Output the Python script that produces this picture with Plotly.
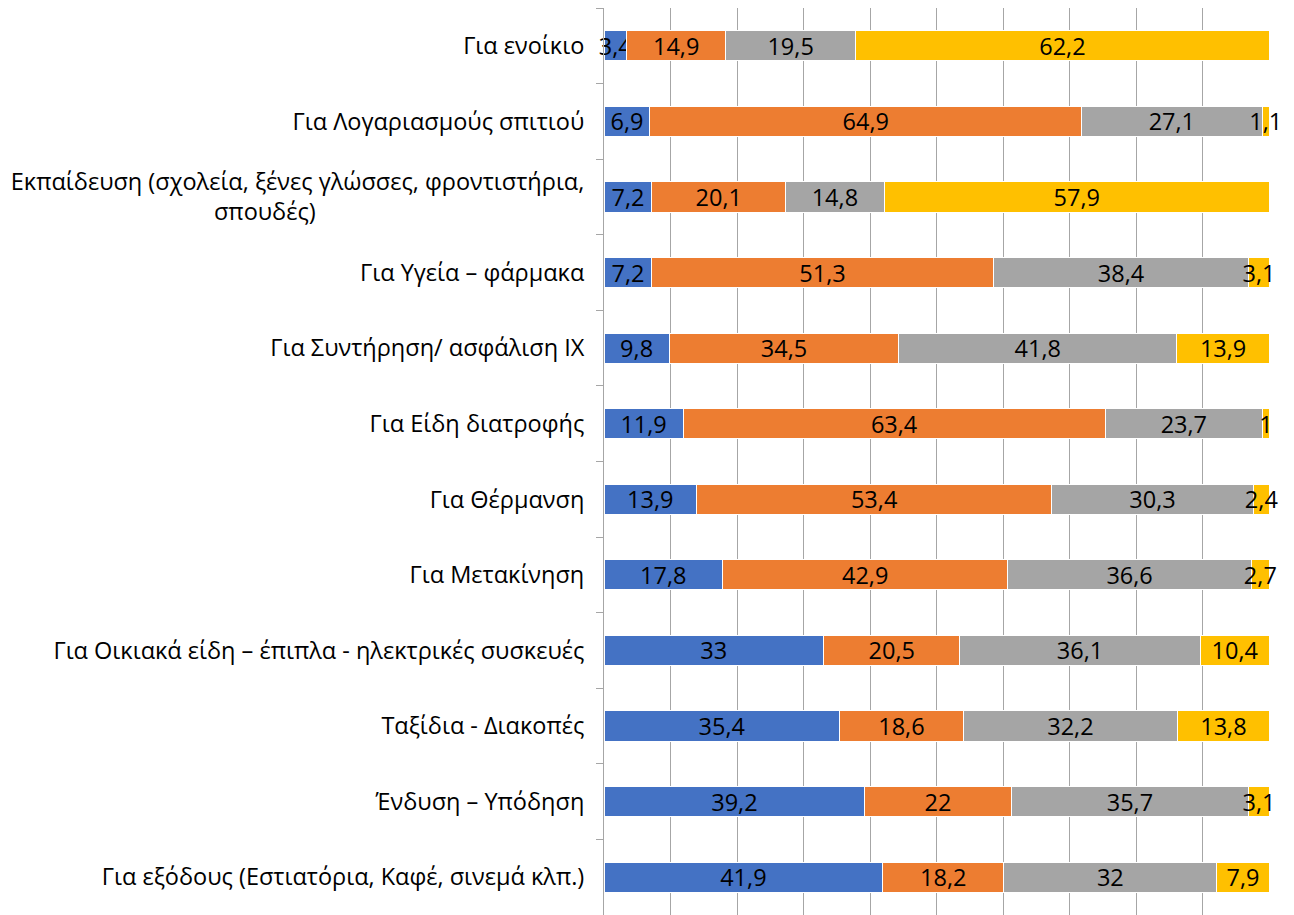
import plotly.graph_objects as go

NB = "\u00a0"

categories = [
    "Για ενοίκιο",
    "Για Λογαριασμούς σπιτιού",
    "Εκπαίδευση (σχολεία, ξένες γλώσσες, φροντιστήρια,<br>σπουδές)" + NB * 44,
    "Για Υγεία – φάρμακα",
    "Για Συντήρηση/ ασφάλιση ΙΧ",
    "Για Είδη διατροφής",
    "Για Θέρμανση",
    "Για Μετακίνηση",
    "Για Οικιακά είδη – έπιπλα - ηλεκτρικές συσκευές",
    "Ταξίδια - Διακοπές",
    "Ένδυση – Υπόδηση",
    "Για εξόδους (Εστιατόρια, Καφέ, σινεμά κλπ.)",
]

series1 = [3.4, 6.9, 7.2, 7.2, 9.8, 11.9, 13.9, 17.8, 33, 35.4, 39.2, 41.9]
series2 = [14.9, 64.9, 20.1, 51.3, 34.5, 63.4, 53.4, 42.9, 20.5, 18.6, 22, 18.2]
series3 = [19.5, 27.1, 14.8, 38.4, 41.8, 23.7, 30.3, 36.6, 36.1, 32.2, 35.7, 32]
series4 = [62.2, 1.1, 57.9, 3.1, 13.9, 1, 2.4, 2.7, 10.4, 13.8, 3.1, 7.9]

colors = ["#4472C4", "#ED7D31", "#A5A5A5", "#FFC000"]

FONT = "Open Sans, Noto Sans, sans-serif"
FS = 23.5


def fmt(v):
    return f"{v:g}".replace(".", ",")


fig = go.Figure()
for vals, col in zip([series1, series2, series3, series4], colors):
    fig.add_trace(go.Bar(
        y=categories,
        x=vals,
        orientation="h",
        marker=dict(color=col, line=dict(color="white", width=1)),
        text=[fmt(v) for v in vals],
        textposition="inside",
        insidetextanchor="middle",
        textangle=0,
        constraintext="none",
        textfont=dict(family=FONT, size=FS, color="#000000"),
        cliponaxis=False,
        showlegend=False,
        hoverinfo="skip",
    ))

fig.update_layout(
    barmode="stack",
    bargap=0.6,
    width=1294,
    height=915,
    margin=dict(l=596, r=32, t=0, b=8),
    plot_bgcolor="white",
    paper_bgcolor="white",
    font=dict(family=FONT, size=FS, color="#000000"),
    xaxis=dict(
        range=[0, 100.1],
        dtick=10,
        showgrid=True,
        gridcolor="#A6A6A6",
        gridwidth=1,
        showticklabels=False,
        zeroline=False,
        showline=False,
        fixedrange=True,
    ),
    yaxis=dict(
        autorange="reversed",
        showline=True,
        linecolor="#A6A6A6",
        linewidth=1,
        ticks="outside",
        tickson="boundaries",
        ticklen=7,
        tickcolor="#A6A6A6",
        ticklabelstandoff=14,
        showgrid=False,
        tickfont=dict(family=FONT, size=FS, color="#000000"),
    ),
)

fig.write_html("out.html")
